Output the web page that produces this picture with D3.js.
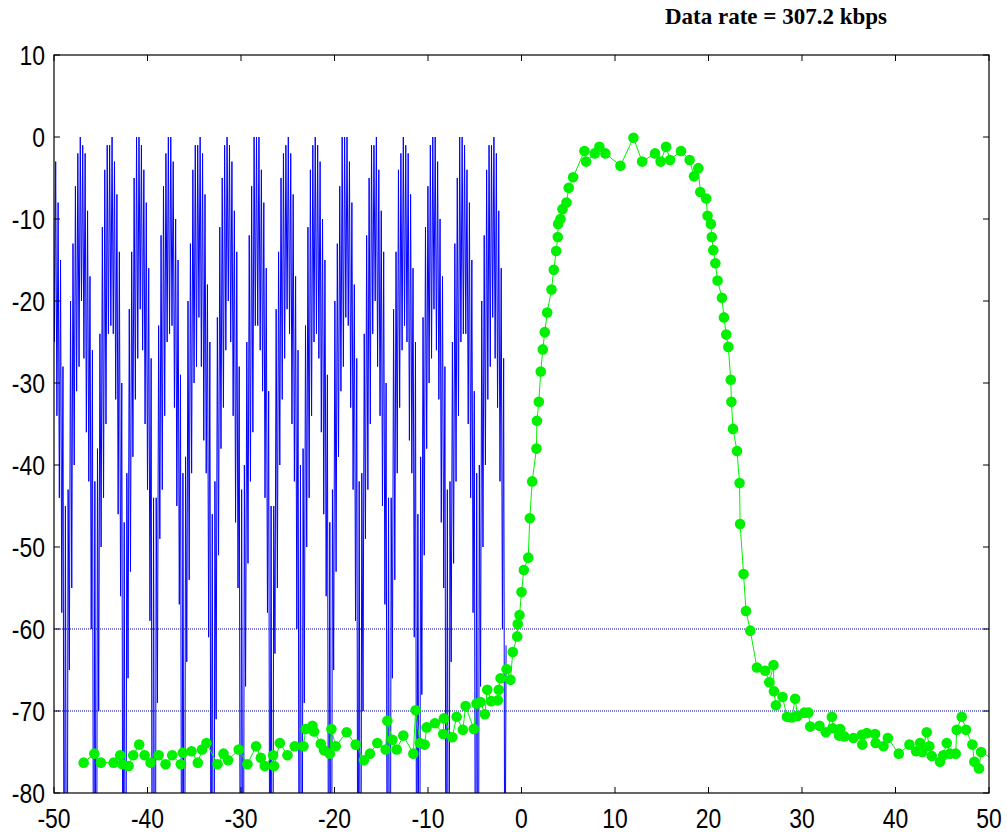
<!DOCTYPE html>
<html><head><meta charset="utf-8">
<script src="https://cdn.jsdelivr.net/npm/d3@7"></script>
<style>html,body{margin:0;padding:0;background:#fff;} svg{display:block;}</style>
</head><body><svg id="chart" width="1007" height="832"></svg>
<script>
// ---------- data ----------
const titleText = "Data rate = 307.2 kbps";
const xTicks = [-50,-40,-30,-20,-10,0,10,20,30,40,50];
const yTicks = [-80,-70,-60,-50,-40,-30,-20,-10,0,10];
const refLines = [-60,-70];

// blue signal: bursts centred on these x values, sampled at these offsets
const blueCenters = [-50.27,-47.12,-43.98,-40.84,-37.70,-34.56,-31.42,-28.27,-25.13,-21.99,-18.85,-15.71,-12.57,-9.42,-6.28,-3.14];
const blueOffsets = [-1.5,-1.37,-1.24,-1.11,-0.98,-0.85,-0.72,-0.59,-0.46,-0.33,-0.20,-0.07,0.06,0.19,0.32,0.45,0.58,0.71,0.84,0.97,1.10,1.23,1.36,1.49];
const blueBursts = [
  [-130,-40,-68,-22,-52,-12,-42,-5,-33,-1,-26,0,-22,0,-25,-3,-34,-8,-44,-15,-58,-28,-110,-45],
  [-125,-43,-65,-20,-55,-13,-40,-6,-31,-2,-28,0,-20,-1,-27,-2,-36,-9,-42,-17,-60,-26,-115,-42],
  [-128,-38,-70,-24,-50,-11,-44,-4,-35,-1,-24,-1,-23,0,-24,-3,-32,-7,-46,-14,-56,-30,-108,-47],
  [-122,-41,-66,-21,-53,-14,-39,-5,-32,0,-27,0,-21,-1,-26,-4,-35,-8,-43,-16,-59,-27,-118,-44],
  [-131,-44,-69,-23,-49,-12,-43,-6,-34,-2,-25,0,-24,0,-23,-3,-33,-10,-45,-15,-57,-29,-112,-41],
  [-126,-39,-64,-20,-54,-13,-41,-4,-30,-1,-28,-1,-22,0,-28,-2,-37,-7,-41,-18,-61,-25,-106,-46],
  [-129,-42,-71,-22,-51,-11,-38,-5,-33,-1,-26,0,-20,-1,-25,-3,-34,-9,-47,-14,-55,-28,-116,-43],
  [-123,-40,-67,-25,-52,-12,-42,-6,-36,0,-23,0,-23,0,-26,-4,-31,-8,-44,-16,-58,-31,-109,-45],
  [-130,-45,-63,-21,-55,-14,-40,-5,-32,-2,-27,-1,-21,0,-24,-2,-35,-7,-42,-17,-60,-26,-113,-40],
  [-124,-38,-69,-23,-50,-11,-44,-4,-34,-1,-25,0,-24,-1,-27,-3,-36,-10,-46,-15,-56,-29,-107,-47],
  [-127,-43,-65,-20,-53,-13,-39,-6,-31,0,-28,0,-22,0,-23,-3,-33,-8,-43,-18,-59,-27,-117,-42],
  [-121,-41,-70,-24,-49,-12,-43,-5,-35,-1,-24,-1,-20,0,-28,-4,-34,-9,-45,-14,-57,-30,-111,-44],
  [-132,-44,-66,-21,-54,-14,-41,-4,-33,-2,-26,0,-23,-1,-25,-2,-37,-7,-41,-16,-61,-25,-105,-46],
  [-125,-39,-68,-22,-51,-11,-38,-6,-30,-1,-27,0,-21,0,-26,-3,-32,-10,-47,-17,-55,-28,-114,-43],
  [-128,-42,-64,-25,-52,-13,-42,-5,-34,0,-25,0,-24,-1,-24,-4,-35,-8,-44,-15,-58,-31,-110,-41],
  [-126,-40,-67,-20,-50,-12,-40,-4,-32,-1,-28,-1,-22,0,-27,-2,-33,-9,-42,-16,-60,-27,-104,-62]
];

// green measured spectrum
const greenX = [-46.83,-45.69,-44.98,-43.62,-42.92,-42.70,-42.02,-41.53,-40.89,-40.31,
-39.67,-38.81,-38.07,-37.36,-36.43,-36.22,-35.29,-34.62,-34.16,-33.69,
-32.51,-31.87,-31.38,-30.24,-29.31,-28.39,-27.88,-27.46,-26.57,-26.46,
-25.85,-25.03,-24.25,-23.32,-23.08,-22.36,-22.19,-21.47,-21.12,-20.51,
-20.33,-19.87,-18.70,-17.74,-16.85,-16.21,-15.42,-14.53,-14.35,-13.81,
-13.35,-12.64,-11.57,-11.32,-10.87,-10.36,-10.15,-9.26,-8.37,-8.30,
-7.40,-6.94,-6.27,-5.98,-5.10,-4.81,-4.38,-3.92,-3.66,-3.24,
-2.53,-2.43,-2.24,-1.60,-1.18,-0.93,-0.46,-0.40,-0.21,0.00,
0.25,0.72,0.89,1.14,1.60,1.65,1.85,2.06,2.28,2.49,
2.75,3.21,3.45,3.71,3.88,3.92,4.17,4.38,4.81,5.05,
5.52,6.73,6.91,7.83,8.33,8.97,10.58,11.97,12.90,14.28,
14.88,15.46,15.89,17.06,17.98,18.45,18.91,19.12,19.75,19.90,
20.25,20.35,20.51,20.73,20.97,21.44,21.65,21.90,22.12,22.38,
22.45,22.62,23.05,23.32,23.38,23.75,24.01,24.47,25.18,26.07,
26.50,26.95,27.00,27.21,27.92,28.39,28.92,29.27,29.52,30.24,
30.69,30.88,31.87,32.55,33.19,33.30,33.97,34.08,34.54,35.50,
36.40,36.45,36.93,37.82,37.87,38.71,39.18,40.35,41.49,42.20,
42.63,42.87,43.34,43.62,43.88,44.76,45.11,45.48,45.83,46.44,
46.55,47.08,47.54,48.22,48.43,48.93,49.15,50.60];
const greenY = [-76.3,-75.2,-76.3,-76.3,-75.4,-76.5,-76.7,-75.4,-74.1,-75.4,
-76.3,-75.4,-76.5,-75.4,-76.5,-75.1,-74.9,-76.3,-74.7,-73.9,
-76.5,-75.2,-76.0,-74.7,-76.5,-74.3,-75.7,-76.7,-75.4,-76.7,
-73.9,-75.4,-74.3,-74.3,-72.2,-71.8,-72.5,-74.0,-74.8,-75.2,
-72.2,-74.3,-72.6,-74.1,-76.0,-75.2,-73.9,-74.7,-71.2,-73.5,
-74.7,-73.0,-75.2,-69.9,-73.9,-74.1,-72.0,-71.5,-72.8,-70.9,
-73.2,-70.7,-72.3,-69.4,-72.2,-69.1,-68.9,-70.4,-67.4,-68.8,
-68.7,-67.4,-66.0,-64.9,-66.2,-62.8,-60.9,-59.4,-58.3,-55.5,
-52.8,-51.3,-46.5,-42.0,-38.0,-34.6,-32.3,-28.6,-25.9,-23.8,
-21.4,-18.6,-16.2,-13.9,-12.2,-10.6,-10.0,-8.8,-8.0,-6.2,
-4.9,-1.7,-3.0,-2.0,-1.2,-2.0,-3.5,-0.1,-3.0,-2.0,
-3.0,-1.2,-2.8,-1.7,-2.8,-4.8,-3.8,-6.7,-7.5,-9.6,
-10.6,-12.2,-13.8,-15.4,-17.5,-19.6,-22.0,-24.1,-25.6,-29.6,
-32.3,-35.6,-38.3,-42.2,-47.2,-53.3,-57.8,-60.2,-64.7,-65.1,
-66.5,-64.4,-67.6,-69.3,-68.3,-70.7,-70.8,-68.5,-70.6,-70.2,
-70.2,-71.9,-71.8,-72.6,-70.7,-72.1,-73.0,-72.2,-73.1,-73.3,
-72.9,-74.1,-72.7,-72.8,-73.9,-74.3,-73.3,-75.2,-74.1,-74.9,
-73.9,-75.0,-72.6,-74.3,-75.5,-76.2,-75.4,-73.9,-75.2,-75.2,
-72.3,-70.7,-72.3,-74.1,-76.2,-77.0,-75.0,-76.0];

// ---------- layout ----------
const svg = d3.select("#chart");
const L = 54, R = 989, T = 55, B = 793;
const x = d3.scaleLinear().domain([-50,50]).range([L,R]);
const y = d3.scaleLinear().domain([-80,10]).range([B,T]);

svg.append("defs").append("clipPath").attr("id","plotClip")
  .append("rect").attr("x",L).attr("y",T).attr("width",R-L).attr("height",B-T);

const plot = svg.append("g").attr("clip-path","url(#plotClip)");

// blue signal
const bluePts = [];
blueCenters.forEach((c,i)=>{
  blueOffsets.forEach((o,j)=>{ bluePts.push([c+o, blueBursts[i][j]]); });
});
plot.append("path").datum(bluePts)
  .attr("fill","none").attr("stroke","#0000ff").attr("stroke-width",1)
  .attr("d", d3.line().x(d=>x(d[0])).y(d=>y(d[1])));

// reference dotted lines
plot.selectAll("line.ref").data(refLines).join("line").attr("class","ref")
  .attr("x1",L).attr("x2",R).attr("y1",d=>y(d)).attr("y2",d=>y(d))
  .attr("stroke","#0000a0").attr("stroke-width",1).attr("stroke-dasharray","1,1");

// green series
const greenPts = greenX.map((v,i)=>[v, greenY[i]]);
plot.append("path").datum(greenPts)
  .attr("fill","none").attr("stroke","#00f000").attr("stroke-width",1)
  .attr("d", d3.line().x(d=>x(d[0])).y(d=>y(d[1])));
plot.selectAll("circle.g").data(greenPts).join("circle").attr("class","g")
  .attr("cx",d=>x(d[0])).attr("cy",d=>y(d[1])).attr("r",5.3)
  .attr("fill","#00f000");

// axes box with inward ticks on all sides
const axG = svg.append("g").attr("stroke","#000").attr("fill","none");
axG.append("rect").attr("x",L).attr("y",T).attr("width",R-L).attr("height",B-T).attr("stroke-width",1.2);
const tk = 6;
xTicks.forEach(d=>{
  axG.append("line").attr("x1",x(d)).attr("x2",x(d)).attr("y1",B).attr("y2",B-tk);
  axG.append("line").attr("x1",x(d)).attr("x2",x(d)).attr("y1",T).attr("y2",T+tk);
});
yTicks.forEach(d=>{
  axG.append("line").attr("x1",L).attr("x2",L+tk).attr("y1",y(d)).attr("y2",y(d));
  axG.append("line").attr("x1",R).attr("x2",R-tk).attr("y1",y(d)).attr("y2",y(d));
});

// tick labels
const fs = 27;
svg.selectAll("text.xl").data(xTicks).join("text").attr("class","xl")
  .attr("transform",d=>`translate(${x(d)},828) scale(0.85,1)`)
  .attr("text-anchor","middle").attr("font-family","Liberation Sans, Arial, sans-serif")
  .attr("font-size",fs).attr("fill","#000").text(d=>String(d));
svg.selectAll("text.yl").data(yTicks).join("text").attr("class","yl")
  .attr("transform",d=>`translate(45,${y(d)+10}) scale(0.85,1)`)
  .attr("text-anchor","end").attr("font-family","Liberation Sans, Arial, sans-serif")
  .attr("font-size",fs).attr("fill","#000").text(d=>String(d));

// title
svg.append("text").attr("x",776).attr("y",24).attr("text-anchor","middle")
  .attr("font-family","Liberation Serif, Times New Roman, serif").attr("font-weight","bold")
  .attr("font-size",23).attr("fill","#000").text(titleText);
</script>
</body></html>
